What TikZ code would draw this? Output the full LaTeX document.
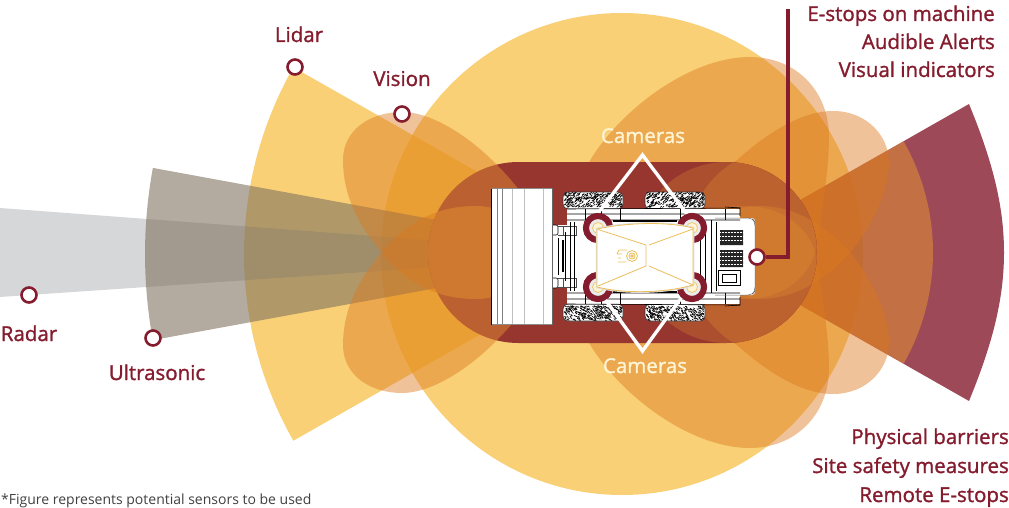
\documentclass[tikz,border=0pt]{standalone}
\usepackage{fontspec}
\setmainfont{Open Sans}
\newfontfamily\labfont{Open Sans}[FakeBold=1.3]
\usetikzlibrary{calc}
\definecolor{maroon}{RGB}{132,28,46}
\definecolor{sunny}{RGB}{246,183,45}
\definecolor{eggc}{RGB}{220,120,30}
\definecolor{eggin}{RGB}{232,150,50}
\definecolor{radarc}{RGB}{138,141,144}
\definecolor{ultrac}{RGB}{128,115,95}
\definecolor{stad}{RGB}{151,53,47}
\definecolor{innerw}{RGB}{240,160,45}
\definecolor{cream}{RGB}{255,244,212}
\definecolor{capy}{RGB}{236,190,90}
\newcommand{\bigeggpath}{(750,57) .. controls (795,57) and (829,90) .. (829,137) .. controls (829,170) and (822,210) .. (817,245) .. controls (812,275) and (785,299) .. (745,299) .. controls (680,299) and (575,255) .. (575,205) .. controls (575,150) and (670,57) .. (750,57) -- cycle}
\newcommand{\mideggpath}{(833,111) .. controls (866,111) and (889,135) .. (889,163) .. controls (889,190) and (873,225) .. (850,253) .. controls (825,280) and (795,299) .. (760,299) .. controls (720,299) and (690,270) .. (690,230) .. controls (690,205) and (710,175) .. (737,160) .. controls (765,135) and (800,111) .. (833,111) -- cycle}
\newcommand{\lefteggpath}{(343,160) .. controls (343,130) and (370,112) .. (402,112) .. controls (432,112) and (470,137) .. (497,165) .. controls (520,188) and (540,215) .. (540,240) .. controls (540,275) and (510,299) .. (475,299) .. controls (440,299) and (408,285) .. (382,253) .. controls (358,225) and (343,195) .. (343,160) -- cycle}
\newcommand{\stadpath}{(518.5,162) -- (726.5,162) arc[start angle=90,end angle=-90,radius=90.5pt] -- (518.5,343) arc[start angle=270,end angle=90,radius=90.5pt] -- cycle}
\newcommand{\tirepath}[1]{%
  \fill[white,rounded corners=5pt] (#1,192) rectangle ++(60,17);
  \foreach \k in {1,...,330}{
    \pgfmathsetmacro{\tx}{#1+1+57*rnd}
    \pgfmathsetmacro{\ty}{193+14.5*rnd}
    \draw[black,line width=.6pt] (\tx,\ty) -- ++(1.6pt,1.2pt);
  }
  \draw[black!80,line width=.6pt,rounded corners=5pt] (#1,192) rectangle ++(60,17);
}
\newcommand{\halfmachine}{%
  \tirepath{563}\tirepath{645}
  \fill[white] (567,209) rectangle (740,220);
  \draw[black,line width=.6pt] (567,209) -- (740,208) (567,214) -- (740,214) (567,220) -- (740,220);
  \draw[black,line width=.6pt] (725,207) -- (740,208) -- (740,216);
  \draw[black,line width=.4pt] (585,209) -- (585,220) (601,209) -- (601,220) (620,209) -- (620,220) (680,209) -- (680,220) (725,209) -- (725,220);
  % arm from the bucket
  \fill[white] (546,225) rectangle (578,236);
  \draw[black,line width=.6pt,rounded corners=2pt] (546,225) rectangle (558,235);
  \draw[black!70,line width=.4pt] (558,226) -- (576,226) -- (576,235) -- (558,235) (563,226) -- (563,235) (570,226) -- (570,235);
  % upper band of the rear deck
  \fill[black] (613,220) rectangle (677,222);
}
\tikzset{
  mirr/.style={yscale=-1,yshift=505pt},
  mach/.style={yscale=-1,yshift=513pt},
  yel/.style={fill=sunny,fill opacity=.65},
  egg/.style={fill=eggc,fill opacity=.45},
  egginL/.style={fill=eggin,fill opacity=.45},
  egginR/.style={fill=eggin,fill opacity=.27},
  sensordot/.style={circle,draw=maroon,line width=2.6pt,fill=white,minimum size=15pt,inner sep=0pt},
  camring/.style={circle,draw=maroon,line width=6pt,fill=black!8,minimum size=24pt,inner sep=0pt},
  camcore/.style={circle,draw=capy,line width=.6pt,fill=cream,minimum size=11pt,inner sep=0pt},
  lab/.style={text=maroon,font=\labfont\fontsize{20.5}{24}\selectfont,inner sep=0pt},
  camlab/.style={text=cream,font=\labfont\fontsize{20.5}{24}\selectfont,inner sep=0pt},
  camline/.style={draw=white,line width=3.4pt,line join=miter,line cap=round},
  wire/.style={draw=maroon,line width=3.8pt,line join=miter},
  capline/.style={draw=capy,line width=.8pt},
}
\begin{document}
\begin{tikzpicture}[x=1pt,y=-1pt]
\useasboundingbox (0,0) rectangle (1009,508);
% base fans
\fill[yel] (622,254) circle[radius=241pt];
\fill[yel] (622,254) -- ++(150.4:378pt) arc[start angle=150.4,end angle=209.6,radius=378pt] -- cycle;
\fill[radarc,fill opacity=.35] (0,208) -- (622,254.5) -- (0,297) -- cycle;
\fill[ultrac,fill opacity=.6] (622,254) -- ++(169.6:477pt) arc[start angle=169.6,end angle=190.4,radius=477pt] -- cycle;
\fill[maroon,fill opacity=.8] (708,252.5) -- (969,104) .. controls (992,160) and (1004,205) .. (1004,252.5) .. controls (1004,300) and (992,345) .. (969,401) -- cycle;
\fill[innerw,fill opacity=.45] (708,252.5) -- ++(29.6:225pt) arc[start angle=29.6,end angle=-29.6,radius=225pt] -- cycle;
% sensor lobes
\fill[egg] \lefteggpath;
\fill[egg,mirr] \lefteggpath;
\fill[egg] \bigeggpath;
\fill[egg,mirr] \bigeggpath;
\fill[egg] \mideggpath;
\fill[egg,mirr] \mideggpath;
% stadium
\fill[stad] \stadpath;
\begin{scope}
  \clip (726.5,252.5) circle[radius=90.5pt];
  \fill[stad] (630,150) rectangle (830,350);
  \fill[egginR] \bigeggpath;
  \fill[egginR,mirr] \bigeggpath;
  \fill[egginR] \mideggpath;
  \fill[egginR,mirr] \mideggpath;
\end{scope}
\begin{scope}
  \clip \stadpath;
  \fill[egginL] \lefteggpath;
  \fill[egginL,mirr] \lefteggpath;
\end{scope}
% machine
\pgfmathsetseed{42}
\fill[white] (545,236) rectangle (567,277);
\fill[white,rounded corners=3pt] (567,218) -- (755,218) -- (755,295) -- (567,295) -- cycle;
\halfmachine
\begin{scope}[mach]
\halfmachine
\end{scope}
\draw[black,line width=.5pt] (558,238) -- (558,275) (565,232) -- (565,281) (570,222) -- (570,291) (574,222) -- (574,291);
\draw[black,line width=1.2pt] (563,240) -- (563,272);
\draw[black,line width=.5pt] (711,220) -- (711,293) (716,222) -- (716,291) (700,220) -- (700,293) (705,222) -- (705,291);
\draw[black!60,line width=.5pt,rounded corners=4pt] (715,218) -- (752,218) -- (755,222) -- (755,291) -- (752,295) -- (715,295);
\fill[black!85] (720,230) rectangle (743,245) (720,250) rectangle (743,267);
\draw[black,line width=.8pt] (718,270) rectangle (740,285);
\draw[black,line width=.4pt] (722,274) rectangle (736,282);
\foreach \yy in {232,236,240,252,256,260,264}{\draw[white,line width=.5pt,densely dotted] (720,\yy) -- (743,\yy);}
% bucket
\fill[white] (491.5,188) rectangle (552.5,325);
\foreach \xx in {512,524,543}{\draw[black!25,line width=.6pt] (\xx,189) -- (\xx,324);}
\draw[black!50,line width=.6pt] (497,189) -- (497,324) (502,189) -- (502,324);
\draw[black,line width=.7pt] (491.5,189) -- (491.5,325);
\draw[black!45,line width=1.5pt] (491.5,188.5) -- (552.5,188.5) (491.5,324.5) -- (552.5,324.5);
\draw[black!60,line width=.6pt] (552.5,188) -- (552.5,325);
% camera lines under the rings
\node[camring] (camTL) at (598,228) {};
\node[camring] (camTR) at (692,228) {};
\node[camring] (camBL) at (598,287) {};
\node[camring] (camBR) at (692,287) {};
\coordinate (apexT) at (642.5,155);
\coordinate (apexB) at (642.5,351);
\draw[camline] (camTL.90) -- (apexT) -- (camTR.110);
\draw[camline] (camBL.-60) -- (apexB) -- (camBR.-135);
\node[camring] at (598,228) {};
\node[camring] at (692,228) {};
\node[camring] at (598,287) {};
\node[camring] at (692,287) {};
\node[camcore] at (598,228) {};
\node[camcore] at (692,228) {};
\node[camcore] at (598,287) {};
\node[camcore] at (692,287) {};
% cabin
\draw[black!12,line width=2.5pt] (597,229) .. controls (625,223) and (665,221) .. (693,228) -- (693,285) .. controls (665,293) and (625,294) .. (597,287) -- cycle;
\fill[white,draw=capy,line width=.8pt] (597,229) .. controls (625,223) and (665,221) .. (693,228) -- (693,285) .. controls (665,293) and (625,294) .. (597,287) -- cycle;
\draw[capline] (598,229.5) -- (646,245) -- (646,266) -- (598,286) (693,229) -- (649,245) (693,285) -- (649,266);
\draw[capline] (632,256) circle[radius=5.5pt] (632,256) circle[radius=3pt] (632,256) circle[radius=1.2pt];
\draw[capline] (627,250) -- (619,250) (626,262) -- (618,262) (622,254) -- (617,254) (621,258) -- (618,258) (619,250) -- (617,254);
% camera labels
\node[camlab,anchor=base] (camtop) at (643,143) {Cameras};
\node[camlab,anchor=base] (cambot) at (645,373) {Cameras};
% wire
\coordinate (wireTop) at (788,9);
\node[sensordot] (alarm) at (757,257) {};
\draw[wire] (alarm.east) -- (788,257) -- (wireTop);
% sensor dots
\node[sensordot] (radarDot) at (29,295) {};
\node[sensordot] (ultraDot) at (153,338) {};
\node[sensordot] (lidarDot) at (295,67) {};
\node[sensordot] (visionDot) at (402,114) {};
% labels
\node[lab,anchor=base] (lidarL) at (299,42) {Lidar};
\node[lab,anchor=base] (visionL) at (402,86) {Vision};
\node[lab,anchor=base] (radarL) at (29,341) {Radar};
\node[lab,anchor=base] (ultraL) at (157,380) {Ultrasonic};
\node[lab,anchor=base east] (t1) at (995,21) {E-stops on machine};
\node[lab,anchor=base east] (t2) at (995,49) {Audible Alerts};
\node[lab,anchor=base east] (t3) at (995,77) {Visual indicators};
\node[lab,anchor=base east] (b1) at (1009,444) {Physical barriers};
\node[lab,anchor=base east] (b2) at (1009,473) {Site safety measures};
\node[lab,anchor=base east] (b3) at (1009,502) {Remote E-stops};
\node[anchor=base west,inner sep=0pt,text=black!75,font=\fontsize{14}{16}\selectfont] (foot) at (1,504) {*Figure represents potential sensors to be used};
\end{tikzpicture}
\end{document}
